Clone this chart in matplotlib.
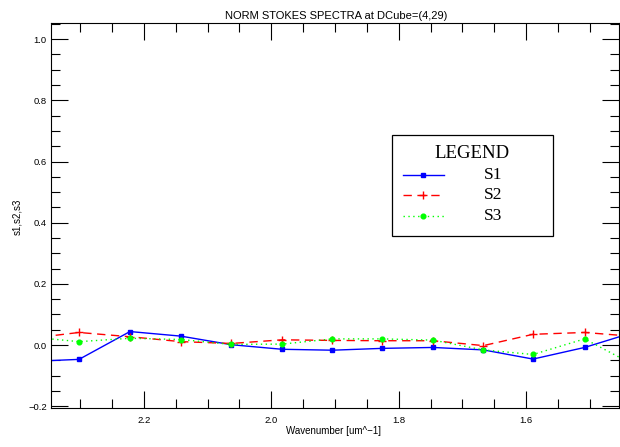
import matplotlib
matplotlib.use("Agg")
import matplotlib.pyplot as plt
from matplotlib.lines import Line2D
from matplotlib.patches import Rectangle
from matplotlib.ticker import MultipleLocator, FixedLocator

# ---- data ----
wavenumber = [2.382, 2.302, 2.222, 2.142, 2.063, 1.983, 1.904, 1.826, 1.746, 1.667, 1.589, 1.508, 1.430]
s1 = [-0.054, -0.047, 0.044, 0.029, 0.001, -0.014, -0.017, -0.011, -0.008, -0.016, -0.046, -0.008, 0.042]
s2 = [0.021, 0.041, 0.027, 0.011, 0.005, 0.017, 0.015, 0.014, 0.014, -0.002, 0.035, 0.041, 0.028]
s3 = [0.027, 0.011, 0.022, 0.018, 0.002, 0.003, 0.020, 0.020, 0.016, -0.016, -0.031, 0.020, -0.066]
series_names = ["S1", "S2", "S3"]
y_ticks = [-0.2, 0.0, 0.2, 0.4, 0.6, 0.8, 1.0]
y_tick_labels = ["\u22120.2", "0.0", "0.2", "0.4", "0.6", "0.8", "1.0"]
x_ticks = [2.2, 2.0, 1.8, 1.6]
x_tick_labels = ["2.2", "2.0", "1.8", "1.6"]
title = "NORM STOKES SPECTRA at DCube=(4,29)"
xlabel = "Wavenumber [um^\u22121]"
ylabel = "s1,s2,s3"
legend_title = "LEGEND"

W, H = 620, 447
fig = plt.figure(figsize=(W / 100, H / 100), dpi=100)
fig.patch.set_facecolor("white")

def fx(px):
    return px / W

def fy(py):
    return 1 - py / H

ax = fig.add_axes([fx(51), fy(408), fx(619) - fx(51), fy(23) - fy(408)])
ax.set_xlim(2.346, 1.454)
ax.set_ylim(-0.206, 1.053)

sans = "Liberation Sans"
serif = "Liberation Serif"

ax.plot(wavenumber, s1, color="#0000ff", lw=1.0, marker="s", ms=3.4, mec="#0000ff", mfc="#0000ff")
ax.plot(wavenumber, s2, color="#ff0000", lw=1.0, dashes=(6, 4), marker="+", ms=5.5, mew=1.0)
ax.plot(wavenumber, s3, color="#00ff00", lw=1.0, dashes=(1, 2.5), marker="o", ms=3.4, mec="#00ff00", mfc="#00ff00")

ax.xaxis.set_major_locator(FixedLocator(x_ticks))
ax.set_xticklabels(x_tick_labels)
ax.xaxis.set_minor_locator(MultipleLocator(0.05))
ax.yaxis.set_major_locator(FixedLocator(y_ticks))
ax.set_yticklabels(y_tick_labels)
ax.yaxis.set_minor_locator(MultipleLocator(0.05))

ax.tick_params(axis="both", which="both", direction="in", top=True, right=True, color="black", width=0.8)
ax.tick_params(axis="both", which="major", length=12.5)
ax.tick_params(axis="both", which="minor", length=6.5)
ax.tick_params(axis="x", which="major", pad=6.0, labelsize=6.8)
ax.tick_params(axis="y", which="major", pad=3, labelsize=6.8)
for lab in ax.get_xticklabels() + ax.get_yticklabels():
    lab.set_fontfamily(sans)
for sp in ax.spines.values():
    sp.set_linewidth(0.8)
    sp.set_color("black")

fig.text(fx(336), fy(16), title, ha="center", va="center", fontsize=8, family=sans)
fig.text(fx(334), fy(431), xlabel, ha="center", va="center", fontsize=7, family=sans)
fig.text(fx(17), fy(217), ylabel, ha="center", va="center", fontsize=7, family=sans, rotation=90)

# ---- legend box drawn manually ----
box = Rectangle((fx(392), fy(236)), fx(553) - fx(392), fy(135) - fy(236),
                transform=fig.transFigure, facecolor="white", edgecolor="black", lw=0.9, zorder=5)
fig.add_artist(box)
fig.text(fx(472), fy(153), legend_title, ha="center", va="center", fontsize=13.5, family=serif, zorder=6)

styles = [
    dict(color="#0000ff", lw=1.0, marker="s", ms=3.4, mec="#0000ff", mfc="#0000ff"),
    dict(color="#ff0000", lw=1.0, dashes=(6, 4), marker="+", ms=5.5, mew=1.0),
    dict(color="#00ff00", lw=1.0, dashes=(1, 2.5), marker="o", ms=3.4, mec="#00ff00", mfc="#00ff00"),
]
rows = [175, 195, 216]
for name, st, py in zip(series_names, styles, rows):
    ln = Line2D([fx(403), fx(444)], [fy(py), fy(py)], transform=fig.transFigure, zorder=6,
                **{k: v for k, v in st.items() if k not in ("marker", "ms", "mec", "mfc", "mew")})
    fig.add_artist(ln)
    mk = Line2D([fx(423)], [fy(py)], transform=fig.transFigure, zorder=7, linestyle="none",
                color=st["color"], marker=st["marker"], ms=st["ms"], mew=st.get("mew", 1.0),
                mec=st.get("mec", st["color"]), mfc=st.get("mfc", st["color"]))
    fig.add_artist(mk)
    fig.text(fx(484), fy(py), name, ha="left", va="center", fontsize=12.5, family=serif, zorder=7)

fig.savefig("out.png", dpi=100, facecolor="white")
